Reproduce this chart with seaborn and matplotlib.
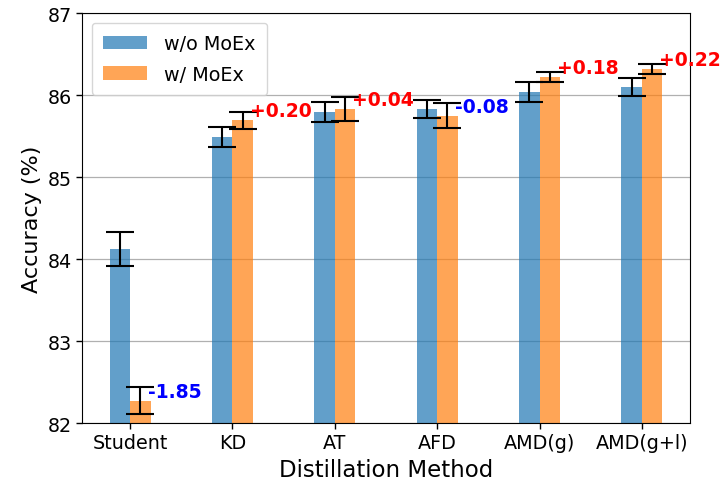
import matplotlib
matplotlib.use("Agg")
import matplotlib.pyplot as plt
import seaborn as sns
import pandas as pd

methods = ["Student", "KD", "AT", "AFD", "AMD(g)", "AMD(g+l)"]
series_names = ["w/o MoEx", "w/ MoEx"]
acc_without = [84.12, 85.49, 85.79, 85.83, 86.04, 86.10]
acc_with = [82.27, 85.69, 85.83, 85.75, 86.22, 86.32]
err_without = [0.21, 0.12, 0.12, 0.11, 0.12, 0.11]
err_with = [0.165, 0.10, 0.15, 0.15, 0.06, 0.06]
diff_labels = ["-1.85", "+0.20", "+0.04", "-0.08", "+0.18", "+0.22"]
y_ticks = [82, 83, 84, 85, 86, 87]

df = pd.DataFrame({
    "Method": methods * 2,
    "Series": [series_names[0]] * len(methods) + [series_names[1]] * len(methods),
    "Accuracy": acc_without + acc_with,
})

plt.rcParams["font.family"] = ["DejaVu Sans"]

fig = plt.figure(figsize=(7.22, 4.81), dpi=100)
ax = fig.add_axes([82 / 722, 1 - 424 / 481, (690 - 82) / 722, (424 - 14) / 481])

sns.barplot(data=df, x="Method", y="Accuracy", hue="Series", order=methods,
            hue_order=series_names, palette=["tab:blue", "tab:orange"],
            width=0.4, saturation=1, alpha=0.7, errorbar=None, linewidth=0,
            ax=ax)

n = len(methods)
patches = ax.patches[:2 * n]
blue_patches = patches[:n]
orange_patches = patches[n:]

xb = [p.get_x() + p.get_width() / 2 for p in blue_patches]
xo = [p.get_x() + p.get_width() / 2 for p in orange_patches]
ax.errorbar(xb, acc_without, yerr=err_without, fmt="none", ecolor="black",
            capsize=10, elinewidth=1.5, capthick=1.5, zorder=5)
ax.errorbar(xo, acc_with, yerr=err_with, fmt="none", ecolor="black",
            capsize=10, elinewidth=1.5, capthick=1.5, zorder=5)

for p, val, lab in zip(orange_patches, acc_with, diff_labels):
    color = "#0000ff" if lab.startswith("-") else "#ff0000"
    ax.text(p.get_x() + p.get_width() - 0.03, val, lab, ha="left", va="bottom",
            color=color, fontsize=13.5, fontweight="bold", clip_on=False, zorder=6)

ax.set_ylim(82, 87)
ax.set_yticks(y_ticks)
ax.set_xlim(-0.47, n - 1 + 0.47)
ax.yaxis.grid(True, color="#b0b0b0", linewidth=0.9)
ax.xaxis.grid(False)
ax.set_axisbelow(True)
ax.tick_params(axis="both", labelsize=13.8, length=4, width=1, color="black")
ax.set_xlabel("Distillation Method", fontsize=16.5)
ax.set_ylabel("Accuracy (%)", fontsize=16)
ax.legend(loc="upper left", fontsize=13.8, title=None, framealpha=0.8,
          handlelength=2.3, borderpad=0.6, labelspacing=0.6,
          handletextpad=0.9)

fig.savefig("out.png", dpi=100)
